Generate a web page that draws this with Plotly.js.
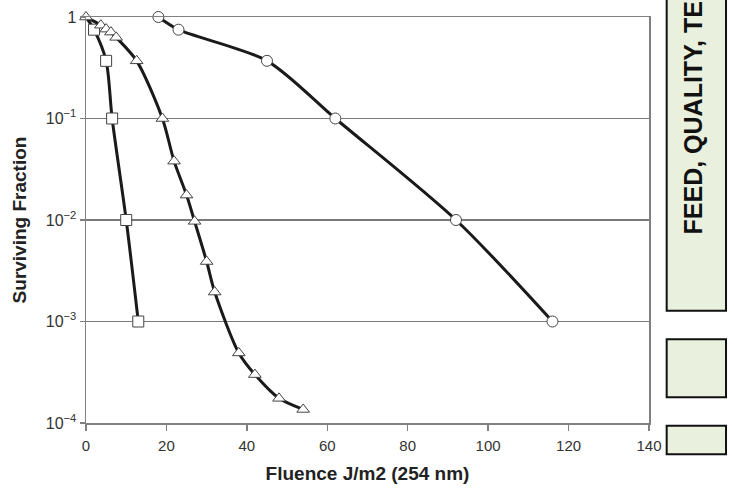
<!DOCTYPE html>
<html>
<head>
<meta charset="utf-8">
<script src="https://cdn.plot.ly/plotly-3.0.1.min.js"></script>
<style>html,body{margin:0;padding:0;background:#fff}#chart{width:734px;height:494px}</style>
</head>
<body>
<div id="chart"></div>
<script>
// Data
var squareFluence = [0, 2, 5, 6.5, 10, 13];
var squareSurvival = [1, 0.75, 0.37, 0.1, 0.01, 0.001];

var triangleFluence = [0, 3.7, 5, 6.2, 7.5, 12.6, 19, 21.9, 25, 27, 30, 32, 38, 42, 48, 54];
var triangleSurvival = [1, 0.83, 0.76, 0.71, 0.63, 0.37, 0.1, 0.038, 0.0176, 0.0097, 0.0039, 0.00195, 0.00049, 0.0003, 0.000175, 0.000136];

var circleFluence = [18, 23, 45, 62, 92, 116];
var circleSurvival = [1, 0.75, 0.37, 0.1, 0.01, 0.001];

var xTickVals = [0, 20, 40, 60, 80, 100, 120, 140];
var yTickVals = [1, 0.1, 0.01, 0.001, 0.0001];
var yTickText = ['1', '10<sup>\u22121</sup>', '10<sup>\u22122</sup>', '10<sup>\u22123</sup>', '10<sup>\u22124</sup>'];

var xTitle = 'Fluence J/m2 (254 nm)';
var yTitle = 'Surviving Fraction';
var sideLabel = 'FEED, QUALITY, TE';

function series(x, y, symbol, opac) {
  return {
    x: x, y: y, type: 'scatter', mode: 'lines+markers',
    line: {color: '#1a1a1a', width: 3, shape: 'spline', smoothing: 0.8},
    marker: {symbol: symbol, size: 11, color: '#ffffff', opacity: opac || 1, line: {color: '#444444', width: 1}},
    showlegend: false, cliponaxis: false
  };
}

var data = [
  series(circleFluence, circleSurvival, 'circle'),
  series(squareFluence, squareSurvival, 'square', [0, 1, 1, 1, 1, 1]),
  series(triangleFluence, triangleSurvival, 'triangle-up')
];

var boxFill = '#e9f0dd';
var titleFont = {size: 19, color: '#222222', family: 'Liberation Sans, Arial, sans-serif', weight: 'bold'};
var layout = {
  width: 734, height: 494,
  margin: {l: 86, r: 85, t: 17, b: 71, pad: 0},
  paper_bgcolor: '#ffffff', plot_bgcolor: '#ffffff',
  font: {family: 'Liberation Sans, Arial, sans-serif', color: '#333333', size: 15},
  xaxis: {
    range: [0, 140], tickvals: xTickVals, ticks: 'outside', ticklen: 6, tickcolor: '#808080', tickwidth: 1.5,
    ticklabelstandoff: 2,
    showgrid: false, zeroline: false, showline: true, linecolor: '#808080', linewidth: 1.5, mirror: true,
    tickfont: {size: 15, color: '#333333'},
    title: {text: xTitle, font: titleFont, standoff: 14}
  },
  yaxis: {
    type: 'log', range: [-4, 0], tickvals: yTickVals, ticktext: yTickText,
    ticks: 'outside', ticklen: 5, tickcolor: '#808080', tickwidth: 1.5,
    showgrid: true, gridcolor: '#7a7a7a', gridwidth: 1.5, zeroline: false,
    showline: true, linecolor: '#808080', linewidth: 1.5, mirror: true,
    tickfont: {size: 16, color: '#333333'},
    title: {text: yTitle, font: titleFont, standoff: 14}
  },
  shapes: [
    {type: 'rect', xref: 'paper', yref: 'paper', x0: 1.0314, x1: 1.1368, y0: 0.2766, y1: 1.07, fillcolor: boxFill, line: {color: '#111111', width: 2}},
    {type: 'rect', xref: 'paper', yref: 'paper', x0: 1.0314, x1: 1.1368, y0: 0.0633, y1: 0.2062, fillcolor: boxFill, line: {color: '#111111', width: 2}},
    {type: 'rect', xref: 'paper', yref: 'paper', x0: 1.0314, x1: 1.1368, y0: -0.0771, y1: -0.0067, fillcolor: boxFill, line: {color: '#111111', width: 2}}
  ],
  annotations: [
    {xref: 'paper', yref: 'paper', x: 1.0799, y: 0.4606, xanchor: 'center', yanchor: 'bottom',
     text: sideLabel, textangle: -90, showarrow: false,
     font: {size: 25, color: '#111111', family: 'Liberation Sans, Arial, sans-serif', weight: 'bold'}}
  ]
};

Plotly.newPlot('chart', data, layout, {displayModeBar: false, staticPlot: true});
</script>
</body>
</html>
